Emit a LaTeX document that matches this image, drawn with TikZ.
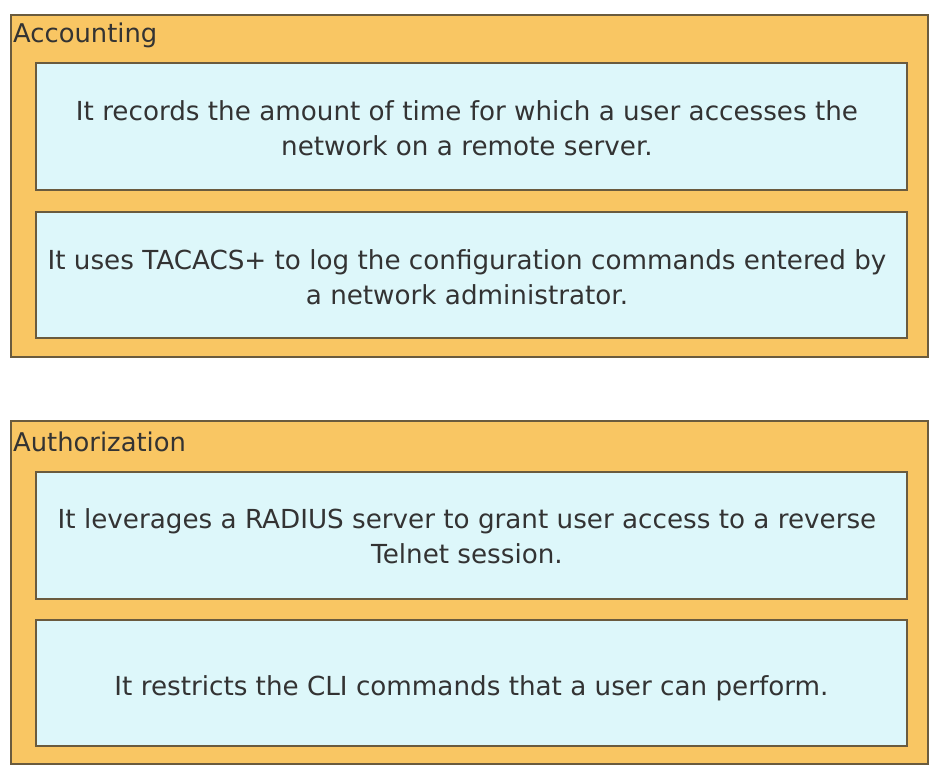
\documentclass[tikz,border=0pt]{standalone}
\usepackage{fontspec}
\setmainfont{DejaVu Sans}
\definecolor{panelfill}{HTML}{F9C663}
\definecolor{boxfill}{HTML}{DDF7FA}
\definecolor{edge}{HTML}{6A5B3E}
\definecolor{txt}{HTML}{333333}
\tikzset{
  panel/.style={draw=edge, line width=2.2pt, fill=panelfill},
  itembox/.style={draw=edge, line width=2.2pt, fill=boxfill},
  itemtext/.style={text=txt, font=\fontsize{26.2}{35}\selectfont, align=center, inner sep=0pt},
  paneltitle/.style={text=txt, font=\fontsize{25.8}{30}\selectfont, anchor=west, inner sep=0pt}
}
\begin{document}
\begin{tikzpicture}[x=1pt,y=-1pt]
\useasboundingbox (0,0) rectangle (952,777);
\fill[white] (0,0) rectangle (952,777);
% Accounting panel
\draw[panel] (11,15) rectangle (928,357);
\node[paneltitle] (acc) at (13,35) {Accounting};
\draw[itembox] (36,63) rectangle (907,190);
\node[itemtext] (a1) at (467,128) {It records the amount of time for which a user accesses the\\network on a remote server.};
\draw[itembox] (36,212) rectangle (907,338);
\node[itemtext] (a2) at (467,277) {It uses TACACS+ to log the configuration commands entered by\\a network administrator.};
% Authorization panel
\draw[panel] (11,421) rectangle (928,764);
\node[paneltitle] (auth) at (13,442) {Authorization};
\draw[itembox] (36,472) rectangle (907,599);
\node[itemtext] (b1) at (467,536) {It leverages a RADIUS server to grant user access to a reverse\\Telnet session.};
\draw[itembox] (36,620) rectangle (907,746);
\node[itemtext] (b2) at (471.5,688) {It restricts the CLI commands that a user can perform.};
\end{tikzpicture}
\end{document}
